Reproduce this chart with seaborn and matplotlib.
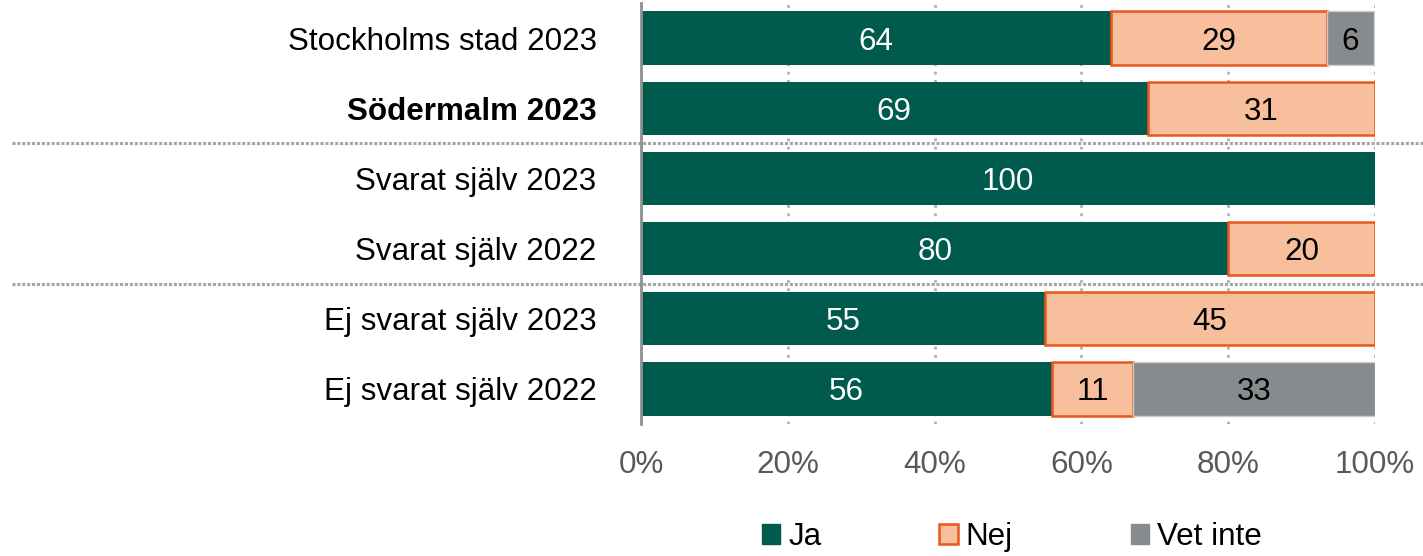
import numpy as np
import pandas as pd
import matplotlib
matplotlib.use("Agg")
import matplotlib.pyplot as plt
from matplotlib.patches import Patch
import seaborn as sns

# data
categories = ["Stockholms stad 2023", "Södermalm 2023", "Svarat själv 2023",
              "Svarat själv 2022", "Ej svarat själv 2023", "Ej svarat själv 2022"]
ja = [64.0, 69, 100, 80, 55, 56]
nej = [29.4, 31, 0, 20, 45, 11]
vet_inte = [6.4, 0, 0, 0, 0, 33]
xticks = [0, 20, 40, 60, 80, 100]
xtick_labels = ["0%", "20%", "40%", "60%", "80%", "100%"]

sns.set_theme(style="white")
plt.rcParams["font.family"] = ["Liberation Sans", "DejaVu Sans"]

col_ja = "#005A4E"
col_nej = "#F8BF9C"
col_nej_edge = "#E8581C"
col_vet = "#888B8D"
fs = 22.6

df = pd.DataFrame({"kat": categories, "Ja": ja, "Nej": nej, "Vet inte": vet_inte})
left_nej = np.array(ja)
left_vet = np.array(ja) + np.array(nej)

fig = plt.figure(figsize=(14.23, 5.56), dpi=100)
ax = fig.add_axes([0.4505, 0.2374, 0.5158, 0.7572])

segments = [
    ("Ja", None, dict(color=col_ja, edgecolor="none", linewidth=0), "white"),
    ("Nej", left_nej, dict(color=col_nej, edgecolor=col_nej_edge, linewidth=1.8), "black"),
    ("Vet inte", left_vet, dict(color=col_vet, edgecolor="#CCCCCC", linewidth=1), "black"),
]

for name, left, style, tcol in segments:
    kws = dict(style)
    if left is not None:
        kws["left"] = left
    sns.barplot(data=df, x=name, y="kat", order=categories, orient="h",
                width=0.76, ax=ax, saturation=1, errorbar=None, **kws)
    cont = ax.containers[-1]
    vals = df[name].tolist()
    for p, v in zip(cont.patches, vals):
        if v == 0:
            p.set_visible(False)
    labels = [f"{v:.0f}" if v > 0 else "" for v in vals]
    texts = ax.bar_label(cont, labels=labels, label_type="center", color=tcol,
                         fontsize=fs)
    for t in texts:
        t.set_va("center_baseline")

ax.set_xlim(0, 100)
ax.set_ylim(5.5, -0.5)
ax.set_xticks(xticks)
ax.set_xticklabels(xtick_labels, fontsize=fs, color="#595959")
ax.set_xlabel("")
ax.set_ylabel("")
ax.tick_params(axis="x", length=0, pad=19)
ax.tick_params(axis="y", length=0, pad=32, labelsize=fs)
for lab in ax.get_yticklabels():
    lab.set_color("black")
    if lab.get_text() == "Södermalm 2023":
        lab.set_fontweight("bold")

ax.grid(axis="x", color="#B0B0B0", linestyle=(0, (1, 2)), linewidth=2)
ax.set_axisbelow(True)
for s in ["top", "right", "bottom"]:
    ax.spines[s].set_visible(False)
ax.spines["left"].set_color("#909090")
ax.spines["left"].set_linewidth(2)

# group separators reaching into the label area
for yy in [1.5, 3.5]:
    ax.axhline(yy, xmin=-0.857, xmax=1.065, clip_on=False, color="#A5A5A5",
               linestyle=(0, (1, 0.6)), linewidth=2.2)

handles = [Patch(facecolor=col_ja, edgecolor=col_ja),
           Patch(facecolor=col_nej, edgecolor=col_nej_edge, linewidth=1.8),
           Patch(facecolor=col_vet, edgecolor=col_vet)]
leg = fig.legend(handles, ["Ja", "Nej", "Vet inte"], loc="center", ncol=3,
                 bbox_to_anchor=(0.711, 0.034), frameon=False, fontsize=fs,
                 handlelength=0.6, handleheight=0.6, handletextpad=0.25,
                 columnspacing=3.75)
for t in leg.get_texts():
    t.set_color("black")

fig.savefig("out.png", dpi=100)
